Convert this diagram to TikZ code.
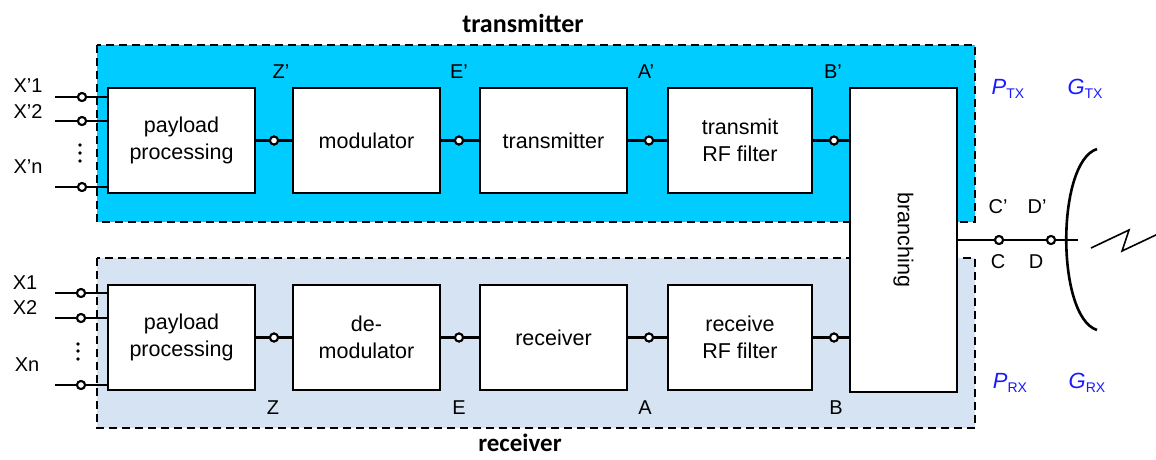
\documentclass[tikz,border=0pt]{standalone}
\usepackage{fontspec}
\setmainfont{Liberation Sans}
\newfontfamily\titlefont{Carlito}
\definecolor{txfill}{RGB}{0,204,255}
\definecolor{rxfill}{RGB}{214,227,242}
\definecolor{lblblue}{RGB}{25,25,255}
\tikzset{
 blk/.style={draw, fill=white, line width=2.6pt, minimum width=147pt, minimum height=105pt, align=center, font=\fontsize{21.5}{26.5}\selectfont, inner sep=0pt},
 port/.style={circle, draw, fill=white, line width=2pt, minimum size=8pt, inner sep=0pt},
 wire/.style={line width=2.4pt},
 frame/.style={dash pattern=on 8pt off 5pt, line width=2.3pt},
 lbl/.style={font=\fontsize{20}{20}\selectfont, inner sep=0pt},
 title/.style={font=\titlefont\bfseries\fontsize{26}{26}\selectfont, inner sep=0pt, anchor=base, text depth=0pt},
 param/.style={text=lblblue, inner sep=0pt, font=\fontsize{22}{22}\selectfont},
 dot/.style={circle, fill=black, minimum size=3.8pt, inner sep=0pt},
}
\newcommand{\sbs}[2]{{\itshape #1}\raisebox{-0.35ex}{\fontsize{14}{14}\selectfont #2}}
\begin{document}
\begin{tikzpicture}[x=1pt,y=-1pt]
\useasboundingbox (0,0) rectangle (1156,459);
% frames
\fill[txfill] (97,45) rectangle (975,222);
\draw[frame] (97,45) rectangle (975,222);
\fill[rxfill] (97,258) rectangle (975,428);
\draw[frame] (97,258) rectangle (975,428);
\node[title] (ttx) at (523,32) {transmitter};
\node[title, font=\titlefont\bfseries\fontsize{25}{25}\selectfont] (trx) at (520,451) {receiver};
% blocks top
\node[blk] (pp1) at (181.5,140.5) {payload\\processing};
\node[blk] (mod1) at (366.5,140.5) {modulator};
\node[blk] (tx1) at (553.5,140.5) {transmitter};
\node[blk, minimum width=144pt] (rf1) at (740,140.5) {transmit\\RF filter};
% blocks bottom
\node[blk] (pp2) at (181.5,337.5) {payload\\processing};
\node[blk] (mod2) at (366.5,337.5) {de-\\modulator};
\node[blk] (tx2) at (553.5,337.5) {receiver};
\node[blk, minimum width=144pt] (rf2) at (740,337.5) {receive\\RF filter};
% branching
\node[blk, minimum width=107pt, minimum height=304pt] (br) at (903.5,240) {};
\node[rotate=-90, font=\fontsize{21.5}{26}\selectfont] (brt) at (br.center) {branching};
% inter-block wires top
\node[port] (z1) at (274,140.5) {};
\node[port] (e1) at (459,140.5) {};
\node[port] (a1) at (649,140.5) {};
\node[port] (b1) at (834,140.5) {};
\draw[wire] (pp1.east) -- (z1) -- (mod1.west);
\draw[wire] (mod1.east) -- (e1) -- (tx1.west);
\draw[wire] (tx1.east) -- (a1) -- (rf1.west);
\draw[wire] (rf1.east) -- (b1) -- (b1 -| br.west);
% bottom
\node[port] (z2) at (274,337.5) {};
\node[port] (e2) at (459,337.5) {};
\node[port] (a2) at (649,337.5) {};
\node[port] (b2) at (834,337.5) {};
\draw[wire] (pp2.east) -- (z2) -- (mod2.west);
\draw[wire] (mod2.east) -- (e2) -- (tx2.west);
\draw[wire] (tx2.east) -- (a2) -- (rf2.west);
\draw[wire] (rf2.east) -- (b2) -- (b2 -| br.west);
\foreach \n in {z1,e1,a1,b1,z2,e2,a2,b2} {\node[port] at (\n) {};}
% labels
\node[lbl] (lz1) at (281,72) {Z’};
\node[lbl] (le1) at (459,72) {E’};
\node[lbl] (la1) at (646,72) {A’};
\node[lbl] (lb1) at (833,72) {B’};
\node[lbl] (lz2) at (273,408) {Z};
\node[lbl] (le2) at (459,408) {E};
\node[lbl] (la2) at (645,408) {A};
\node[lbl] (lb2) at (836,408) {B};
% inputs top
\coordinate (i1) at (55,97);
\coordinate (i2) at (55,121);
\coordinate (i3) at (55,187);
\node[port] (pi1) at (82,97) {};
\node[port] (pi2) at (82,121) {};
\node[port] (pi3) at (82,187) {};
\draw[wire] (i1) -- (pi1) -- (pi1 -| pp1.west);
\draw[wire] (i2) -- (pi2) -- (pi2 -| pp1.west);
\draw[wire] (i3) -- (pi3) -- (pi3 -| pp1.west);
\foreach \n in {pi1,pi2,pi3} {\node[port] at (\n) {};}
\node[lbl] (xi1) at (28,86) {X’1};
\node[lbl] (xi2) at (28,112) {X’2};
\node[lbl] (xi3) at (28,167) {X’n};
\node[dot] at (80,145) {};
\node[dot] at (80,153) {};
\node[dot] at (80,161) {};
% inputs bottom
\coordinate (j1) at (55,293);
\coordinate (j2) at (55,318);
\coordinate (j3) at (55,385);
\node[port] (pj1) at (81,293) {};
\node[port] (pj2) at (81,318) {};
\node[port] (pj3) at (81,385) {};
\draw[wire] (j1) -- (pj1) -- (pj1 -| pp2.west);
\draw[wire] (j2) -- (pj2) -- (pj2 -| pp2.west);
\draw[wire] (j3) -- (pj3) -- (pj3 -| pp2.west);
\foreach \n in {pj1,pj2,pj3} {\node[port] at (\n) {};}
\node[lbl] (xj1) at (25,283) {X1};
\node[lbl] (xj2) at (25,308) {X2};
\node[lbl] (xj3) at (27,365) {Xn};
\node[dot] at (78,344) {};
\node[dot] at (78,351) {};
\node[dot] at (78,359) {};
% output to antenna
\coordinate (ant) at (1078,240);
\node[port] (pc) at (999,240) {};
\node[port] (pd) at (1051,240) {};
\draw[wire] (br.east |- pc) -- (pc) -- (pd) -- (ant);
\node[port] at (pc) {};
\node[port] at (pd) {};
\node[lbl] (lc1) at (998,207) {C’};
\node[lbl] (ld1) at (1037,207) {D’};
\node[lbl] (lc2) at (998,262) {C};
\node[lbl] (ld2) at (1036,262) {D};
% antenna
\draw[line width=2.6pt] (1097,149) .. controls (1056,162) and (1056,317) .. (1097,330);
\draw[line width=1.6pt] (1091,248) -- (1129,230) -- (1122,251) -- (1158,234);
% parameters
\node[param] (ptx) at (1008,89) {\sbs{P}{TX}};
\node[param] (gtx) at (1085,89) {\sbs{G}{TX}};
\node[param] (prx) at (1010,383) {\sbs{P}{RX}};
\node[param] (grx) at (1087,383) {\sbs{G}{RX}};
\end{tikzpicture}
\end{document}
